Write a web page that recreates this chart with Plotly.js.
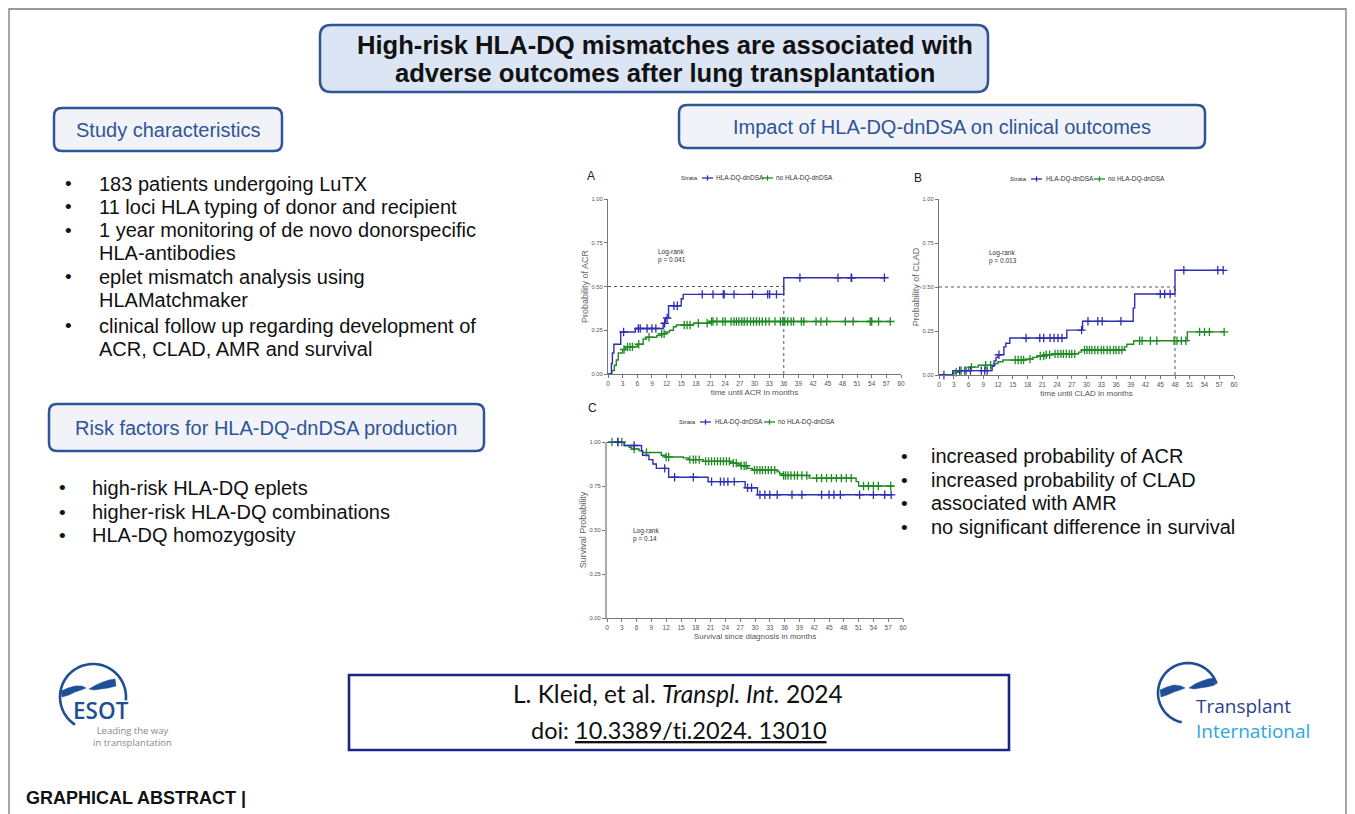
<!DOCTYPE html>
<html><head><meta charset="utf-8">
<script src="https://cdn.plot.ly/plotly-3.0.1.min.js"></script>
<style>html,body{margin:0;padding:0;background:#fff;}#chart{width:1355px;height:814px;}</style>
</head><body><div id="chart"></div>
<script>
// ---------------- DATA ----------------
const strata = ['HLA-DQ-dnDSA', 'no HLA-DQ-dnDSA'];
const xTicks = [0,3,6,9,12,15,18,21,24,27,30,33,36,39,42,45,48,51,54,57,60];
const yTicks = [0, 0.25, 0.5, 0.75, 1.0];

// A: ACR (cumulative probability)
const acrDsaT = [0, 0.7, 0.9, 1.2, 2.6, 5.6, 11.3, 11.8, 12.4, 15.0, 15.4, 36.0, 56.8];
const acrDsaP = [0, 0.06, 0.12, 0.17, 0.24, 0.26, 0.29, 0.32, 0.39, 0.43, 0.455, 0.55, 0.55];
const acrDsaCens = [3.2, 6.2, 6.6, 8.0, 9.0, 9.8, 11.6, 12.1, 13.5, 14.2, 19.3, 21.5, 23.6, 23.8, 25.8, 29.6, 32.7, 33.1, 34.5, 39.3, 47.1, 49.8, 49.9, 56.6];
const acrNoT = [0, 0.8, 1.3, 1.7, 2.1, 3.0, 3.6, 6.0, 7.2, 7.9, 10.0, 11.0, 11.8, 12.6, 13.4, 14.0, 17.5, 20.8, 57.9];
const acrNoP = [0, 0.02, 0.05, 0.08, 0.12, 0.14, 0.155, 0.17, 0.20, 0.21, 0.22, 0.23, 0.24, 0.25, 0.27, 0.28, 0.29, 0.30, 0.30];
const acrNoCens = [3.3, 4.0, 4.5, 5.0, 6.3, 8.4, 11.0, 11.5, 15.6, 16.2, 16.8, 18.5, 20.3, 21.2, 21.5, 22.3, 23.5, 24.0, 25.2, 25.8, 26.3, 26.8, 27.4, 27.9, 28.5, 29.2, 29.8, 30.4, 31.0, 31.6, 32.3, 33.0, 34.2, 35.3, 35.8, 36.2, 36.8, 37.5, 38.0, 39.6, 40.1, 42.6, 43.6, 44.8, 48.6, 50.2, 53.7, 54.0, 55.4, 57.8];
const acrLogRank = 'Log-rank<br>p = 0.041';

// B: CLAD (cumulative probability)
const cladDsaT = [0, 2.8, 10.8, 11.2, 11.6, 12.0, 13.2, 13.6, 14.4, 26.0, 29.2, 39.5, 39.8, 48.0, 57.9];
const cladDsaP = [0, 0.025, 0.05, 0.08, 0.10, 0.115, 0.16, 0.18, 0.21, 0.255, 0.305, 0.38, 0.46, 0.595, 0.595];
const cladDsaCens = [1.0, 4.2, 5.5, 6.4, 8.6, 9.3, 9.8, 12.2, 17.7, 20.5, 21.3, 22.6, 23.4, 24.2, 25.0, 29.0, 30.3, 32.3, 33.2, 37.0, 45.0, 45.9, 47.0, 49.8, 56.7, 57.8];
const cladNoT = [0, 2.8, 3.4, 4.0, 6.0, 8.0, 11.4, 12.0, 13.0, 17.5, 19.0, 20.0, 21.5, 23.0, 28.4, 29.0, 37.7, 38.2, 39.6, 50.5, 58.0];
const cladNoP = [0, 0.008, 0.016, 0.025, 0.045, 0.055, 0.065, 0.075, 0.085, 0.09, 0.10, 0.108, 0.115, 0.12, 0.13, 0.142, 0.16, 0.175, 0.195, 0.245, 0.245];
const cladNoCens = [3.5, 4.5, 5.2, 6.6, 9.5, 10.5, 15.5, 16.1, 16.7, 17.2, 18.5, 20.6, 21.3, 21.8, 22.5, 23.6, 24.2, 24.8, 25.3, 25.9, 26.5, 27.0, 27.6, 29.6, 30.1, 30.6, 31.1, 31.7, 32.3, 33.0, 33.5, 34.2, 34.8, 35.5, 36.0, 36.6, 37.2, 40.8, 41.3, 43.0, 44.3, 47.8, 48.4, 49.3, 50.2, 53.0, 54.0, 55.0, 58.0];
const cladLogRank = 'Log-rank<br>p = 0.013';

// C: survival probability
const survDsaT = [0, 3.5, 7.0, 7.2, 8.5, 9.3, 10.0, 12.5, 20.5, 28.0, 30.5, 57.9];
const survDsaP = [1.0, 0.98, 0.95, 0.925, 0.90, 0.875, 0.85, 0.80, 0.775, 0.74, 0.70, 0.70];
const survDsaCens = [2.2, 5.5, 11.7, 13.7, 17.5, 21.2, 23.0, 23.7, 24.5, 25.8, 28.5, 29.3, 31.0, 32.0, 33.0, 34.5, 37.5, 39.5, 43.5, 45.0, 46.0, 47.3, 51.2, 54.0, 56.3, 57.6];
const survNoT = [0, 3.5, 4.5, 5.0, 6.5, 7.2, 11.0, 11.8, 15.5, 16.5, 19.5, 25.0, 26.5, 27.0, 28.5, 29.5, 34.5, 35.0, 35.5, 41.0, 50.5, 51.0, 58.0];
const survNoP = [1.0, 0.98, 0.97, 0.96, 0.95, 0.94, 0.925, 0.915, 0.91, 0.90, 0.89, 0.88, 0.875, 0.865, 0.85, 0.84, 0.83, 0.82, 0.81, 0.795, 0.775, 0.75, 0.75];
const survNoCens = [1.0, 2.2, 3.0, 5.5, 8.0, 12.0, 12.5, 16.8, 17.5, 18.0, 18.7, 20.0, 20.6, 21.2, 21.8, 22.4, 23.0, 23.6, 24.2, 24.8, 25.6, 26.2, 27.2, 27.8, 28.2, 29.9, 30.4, 31.0, 31.5, 32.1, 32.7, 33.3, 34.0, 35.8, 36.2, 36.7, 37.3, 38.0, 38.6, 39.5, 40.5, 42.5, 43.5, 44.5, 45.5, 46.5, 47.5, 48.5, 49.5, 52.0, 53.0, 54.0, 55.0, 57.5];
const survLogRank = 'Log-rank<br>p = 0.14';

// median reference lines (dotted)
const medianLevel = 0.5;
const acrMedianTime = 36;
const cladMedianTime = 48;

// text content
const titleLines = ['High-risk HLA-DQ mismatches are associated with', 'adverse outcomes after lung transplantation'];
const studyItems = [
  ['183 patients undergoing LuTX'],
  ['11 loci HLA typing of donor and recipient'],
  ['1 year monitoring of de novo donorspecific', 'HLA-antibodies'],
  ['eplet mismatch analysis using', 'HLAMatchmaker'],
  ['clinical follow up regarding development of', 'ACR, CLAD, AMR and survival']
];
const riskItems = ['high-risk HLA-DQ eplets', 'higher-risk HLA-DQ combinations', 'HLA-DQ homozygosity'];
const outcomeItems = ['increased probability of ACR', 'increased probability of CLAD', 'associated with AMR', 'no significant difference in survival'];

// ---------------- HELPERS ----------------
const W = 1355, H = 814;
const X = x => x / W, Y = y => 1 - y / H;
const SANS = 'Liberation Sans, Arial, Helvetica, sans-serif';
const NARROW = 'Liberation Sans Narrow, Arial Narrow, Liberation Sans, sans-serif';
const BLUE = '#2e2eb4', GREEN = '#1f8a24';
const BOXBLUE = '#2f5597';

function stepAt(T, P, t) { let v = P[0]; for (let i = 0; i < T.length; i++) { if (T[i] <= t) v = P[i]; } return v; }
function curve(T, P, color, xa, ya) {
  return { x: T, y: P, type: 'scatter', mode: 'lines', line: { shape: 'hv', color: color, width: 1.4 }, xaxis: xa, yaxis: ya, hoverinfo: 'skip', cliponaxis: false, showlegend: false };
}
function marks(T, P, C, color, xa, ya) {
  return { x: C, y: C.map(c => stepAt(T, P, c)), type: 'scatter', mode: 'markers', marker: { symbol: 'cross-thin', size: 6, color: color, line: { color: color, width: 1.3 } }, xaxis: xa, yaxis: ya, hoverinfo: 'skip', cliponaxis: false, showlegend: false };
}

const traces = [
  curve(acrNoT, acrNoP, GREEN, 'x', 'y'), marks(acrNoT, acrNoP, acrNoCens, GREEN, 'x', 'y'),
  curve(acrDsaT, acrDsaP, BLUE, 'x', 'y'), marks(acrDsaT, acrDsaP, acrDsaCens, BLUE, 'x', 'y'),
  curve(cladNoT, cladNoP, GREEN, 'x2', 'y2'), marks(cladNoT, cladNoP, cladNoCens, GREEN, 'x2', 'y2'),
  curve(cladDsaT, cladDsaP, BLUE, 'x2', 'y2'), marks(cladDsaT, cladDsaP, cladDsaCens, BLUE, 'x2', 'y2'),
  curve(survNoT, survNoP, GREEN, 'x3', 'y3'), marks(survNoT, survNoP, survNoCens, GREEN, 'x3', 'y3'),
  curve(survDsaT, survDsaP, BLUE, 'x3', 'y3'), marks(survDsaT, survDsaP, survDsaCens, BLUE, 'x3', 'y3')
];

function xAx(x0, x1, anchor, title) {
  return { domain: [X(x0), X(x1)], anchor: anchor, range: [0, 60], tickmode: 'array', tickvals: xTicks, ticktext: xTicks.map(String),
    showgrid: false, zeroline: false, showline: true, linecolor: '#777', linewidth: 1, ticks: 'outside', ticklen: 3, tickcolor: '#777',
    tickfont: { family: NARROW, size: 6.5, color: '#555' }, automargin: false, fixedrange: true,
    title: { text: title, font: { family: NARROW, size: 8, color: '#555' }, standoff: 3 } };
}
function yAx(y0, y1, anchor, title, lc, lw) {
  return { domain: [Y(y1), Y(y0)], anchor: anchor, range: [0, 1], tickmode: 'array', tickvals: yTicks, ticktext: yTicks.map(v => v.toFixed(2)),
    showgrid: false, zeroline: false, showline: true, linecolor: lc || '#777', linewidth: lw || 1, ticks: 'outside', ticklen: 3, tickcolor: '#777',
    tickfont: { family: NARROW, size: 5.8, color: '#555' }, automargin: false, fixedrange: true,
    title: { text: title, font: { family: NARROW, size: 9, color: '#666' }, standoff: 1 } };
}

function rrect(x0, y0, x1, y1, r) {
  const p = (x, y) => X(x).toFixed(5) + ',' + Y(y).toFixed(5);
  return 'M' + p(x0 + r, y0) + ' L' + p(x1 - r, y0) + ' Q' + p(x1, y0) + ' ' + p(x1, y0 + r) +
    ' L' + p(x1, y1 - r) + ' Q' + p(x1, y1) + ' ' + p(x1 - r, y1) +
    ' L' + p(x0 + r, y1) + ' Q' + p(x0, y1) + ' ' + p(x0, y1 - r) +
    ' L' + p(x0, y0 + r) + ' Q' + p(x0, y0) + ' ' + p(x0 + r, y0) + ' Z';
}
function arcPath(cx, cy, r, a0, a1, n) {
  let s = '';
  for (let i = 0; i <= n; i++) {
    const a = (a0 + (a1 - a0) * i / n) * Math.PI / 180;
    s += (i ? ' L' : 'M') + X(cx + r * Math.cos(a)).toFixed(5) + ',' + Y(cy - r * Math.sin(a)).toFixed(5);
  }
  return s;
}
function poly(pts) { return pts.map((p, i) => (i ? 'L' : 'M') + X(p[0]).toFixed(5) + ',' + Y(p[1]).toFixed(5)).join(' ') + ' Z'; }
function pshape(path, fill, lc, lw, layer) {
  return { type: 'path', xref: 'paper', yref: 'paper', path: path, fillcolor: fill || 'rgba(0,0,0,0)', line: { color: lc || 'rgba(0,0,0,0)', width: lw || 0 }, layer: layer || 'above' };
}
function pline(x0, y0, x1, y1, color, w) {
  return { type: 'line', xref: 'paper', yref: 'paper', x0: X(x0), y0: Y(y0), x1: X(x1), y1: Y(y1), line: { color: color, width: w } };
}
function txt(x, y, text, opt) {
  const o = { xref: 'paper', yref: 'paper', x: X(x), y: Y(y), text: text, showarrow: false, xanchor: 'left', yanchor: 'middle',
    font: { family: SANS, size: 20, color: '#111' }, borderpad: 0 };
  return Object.assign(o, opt || {});
}

// ---------------- SHAPES ----------------
const shapes = [];
// outer frame
shapes.push({ type: 'rect', xref: 'paper', yref: 'paper', x0: X(9), y0: Y(9), x1: X(1346), y1: Y(840), line: { color: '#777', width: 1.3 }, fillcolor: 'rgba(0,0,0,0)', layer: 'below' });
// header boxes
shapes.push(pshape(rrect(320, 25, 988, 92, 11), '#dce5f4', BOXBLUE, 2.5, 'below'));
shapes.push(pshape(rrect(54, 108, 282, 151, 8), '#f1f3f9', BOXBLUE, 2.5, 'below'));
shapes.push(pshape(rrect(679, 105, 1205, 148, 8), '#f1f3f9', BOXBLUE, 2.5, 'below'));
shapes.push(pshape(rrect(49, 404, 484, 451, 8), '#f1f3f9', BOXBLUE, 2.5, 'below'));
// citation box
shapes.push({ type: 'rect', xref: 'paper', yref: 'paper', x0: X(349), y0: Y(675), x1: X(1009), y1: Y(750), line: { color: '#1c2583', width: 2.6 }, fillcolor: '#ffffff', layer: 'below' });

// median dotted lines
function medianLines(xa, ya, t) {
  return [
    { type: 'line', xref: xa, yref: ya, x0: 0, x1: t, y0: medianLevel, y1: medianLevel, line: { color: '#555', width: 1, dash: 'dot' }, layer: 'below' },
    { type: 'line', xref: xa, yref: ya, x0: t, x1: t, y0: 0, y1: medianLevel, line: { color: '#555', width: 1, dash: 'dot' }, layer: 'below' }
  ];
}
shapes.push(...medianLines('x', 'y', acrMedianTime));
shapes.push(...medianLines('x2', 'y2', cladMedianTime));

// legend glyphs (line with +)
function glyph(x0, x1, y, color) {
  const xc = (x0 + x1) / 2;
  return [pline(x0, y, x1, y, color, 1.3), pline(xc, y - 2.6, xc, y + 2.6, color, 1.3)];
}
const legends = [
  { y: 178, strata: 699, g1: [702, 713], t1: 715, g2: [762, 773], t2: 775 },
  { y: 179, strata: 1028, g1: [1031, 1042], t1: 1045, g2: [1094, 1105], t2: 1107 },
  { y: 422, strata: 697, g1: [700, 711], t1: 714, g2: [764, 775], t2: 777 }
];
legends.forEach(l => { shapes.push(...glyph(l.g1[0], l.g1[1], l.y, BLUE)); shapes.push(...glyph(l.g2[0], l.g2[1], l.y, GREEN)); });

// logos
const LOGO = '#1d4e96';
shapes.push(pshape(arcPath(93, 697, 33, -6, 237, 60), null, LOGO, 2.6));
shapes.push(pshape(poly([[61, 691], [68, 688], [75, 686], [82, 686], [86, 688], [81, 690], [75, 692], [69, 695], [62, 697]]), LOGO, LOGO, 0.5));
shapes.push(pshape(poly([[115, 679], [109, 680], [103, 682], [96, 685], [89, 689], [94, 690], [101, 689], [108, 688], [116, 686]]), LOGO, LOGO, 0.5));
shapes.push(pshape(arcPath(1188, 693, 30, 18, 258, 60), null, LOGO, 2.6));
shapes.push(pshape(poly([[1160, 690], [1167, 687], [1174, 685], [1181, 686], [1185, 688], [1180, 690], [1174, 692], [1167, 695], [1161, 697]]), LOGO, LOGO, 0.5));
shapes.push(pshape(poly([[1214, 678], [1208, 679], [1202, 681], [1195, 684], [1189, 688], [1194, 689], [1200, 688], [1207, 687], [1215, 685]]), LOGO, LOGO, 0.5));

// ---------------- ANNOTATIONS ----------------
const ann = [];
// title
ann.push(txt(665, 45, '<b>' + titleLines[0] + '</b>', { xanchor: 'center', font: { family: SANS, size: 25.6, color: '#111' } }));
ann.push(txt(665, 73, '<b>' + titleLines[1] + '</b>', { xanchor: 'center', font: { family: SANS, size: 25.6, color: '#111' } }));
// box headings
ann.push(txt(168, 130, 'Study characteristics', { xanchor: 'center', font: { family: SANS, size: 20, color: BOXBLUE } }));
ann.push(txt(942, 127, 'Impact of HLA-DQ-dnDSA on clinical outcomes', { xanchor: 'center', font: { family: SANS, size: 20, color: BOXBLUE } }));
ann.push(txt(266, 428, 'Risk factors for HLA-DQ-dnDSA production', { xanchor: 'center', font: { family: SANS, size: 20, color: BOXBLUE } }));
// study characteristic bullets
const studyY = [[184], [207], [230, 253], [277, 300], [326, 349]];
studyItems.forEach((item, i) => {
  ann.push(txt(64, studyY[i][0], '•', { font: { family: SANS, size: 19, color: '#111' } }));
  item.forEach((line, j) => ann.push(txt(98, studyY[i][j], line)));
});
const riskY = [488, 512, 535];
riskItems.forEach((t, i) => { ann.push(txt(58, riskY[i], '•', { font: { family: SANS, size: 19, color: '#111' } })); ann.push(txt(91, riskY[i], t)); });
const outY = [456, 480, 503, 527];
outcomeItems.forEach((t, i) => { ann.push(txt(900, outY[i], '•', { font: { family: SANS, size: 19, color: '#111' } })); ann.push(txt(930, outY[i], t)); });

// panel letters
ann.push(txt(586, 176, 'A', { font: { family: SANS, size: 12, color: '#222' } }));
ann.push(txt(913, 178, 'B', { font: { family: SANS, size: 12, color: '#222' } }));
ann.push(txt(587, 408, 'C', { font: { family: SANS, size: 12, color: '#222' } }));
// legend texts
legends.forEach(l => {
  const f = { family: NARROW, size: 6.5, color: '#333' };
  ann.push(txt(l.strata, l.y, 'Strata', { xanchor: 'right', font: { family: NARROW, size: 6, color: '#333' } }));
  ann.push(txt(l.t1, l.y, strata[0], { font: f }));
  ann.push(txt(l.t2, l.y, strata[1], { font: f }));
});
// log-rank texts (data coords)
function lr(xa, ya, x, y, t) { return { xref: xa, yref: ya, x: x, y: y, text: t, showarrow: false, xanchor: 'left', yanchor: 'top', align: 'left', font: { family: NARROW, size: 6.5, color: '#333' } }; }
ann.push(lr('x', 'y', 9.8, 0.73, acrLogRank));
ann.push(lr('x2', 'y2', 9.8, 0.73, cladLogRank));
ann.push(lr('x3', 'y3', 4.8, 0.53, survLogRank));

// citation
const CIT = 'Lato, Carlito, Calibri, sans-serif';
ann.push(txt(678, 693, 'L. Kleid, et al. <i>Transpl. Int.</i> 2024', { xanchor: 'center', font: { family: CIT, size: 24.5, color: '#111' } }));
ann.push(txt(679, 730, 'doi: <span style="text-decoration:underline">10.3389/t\u200Ci.2024. 13010</span>', { xanchor: 'center', font: { family: CIT, size: 23.5, color: '#111' } }));
// logo texts
ann.push(txt(72, 710, 'ESOT', { font: { family: 'Open Sans, Lato, sans-serif', size: 22.5, color: LOGO, weight: 600 } }));
ann.push(txt(92, 736, 'Leading the way<br>in transplantation', { font: { family: 'Open Sans, Lato, sans-serif', size: 9.5, color: '#888' } }));
ann.push(txt(1195, 718, '<span style="color:#2d3f8e">Transplant</span><br><span style="color:#2aa8e0">International</span>', { align: 'left', font: { family: 'Open Sans, Lato, sans-serif', size: 19, color: '#2d3f8e' } }));
// footer
ann.push(txt(25, 798, '<b>GRAPHICAL ABSTRACT |</b>', { font: { family: SANS, size: 18, color: '#111' } }));

// ---------------- LAYOUT ----------------
const layout = {
  width: W, height: H, margin: { l: 0, r: 0, t: 0, b: 0 }, paper_bgcolor: '#ffffff', plot_bgcolor: 'rgba(0,0,0,0)',
  showlegend: false, hovermode: false,
  xaxis: xAx(608, 901, 'y', 'time until ACR in months'),
  yaxis: yAx(199, 374, 'x', 'Probability of ACR'),
  xaxis2: xAx(939, 1234, 'y2', 'time until CLAD in months'),
  yaxis2: yAx(199, 375, 'x2', 'Probability of CLAD'),
  xaxis3: xAx(607, 903, 'y3', 'Survival since diagnosis in months'),
  yaxis3: yAx(442, 618, 'x3', 'Survival Probability', '#aaa', 2),
  shapes: shapes, annotations: ann
};
Plotly.newPlot('chart', traces, layout, { displayModeBar: false, staticPlot: true });
</script></body></html>
